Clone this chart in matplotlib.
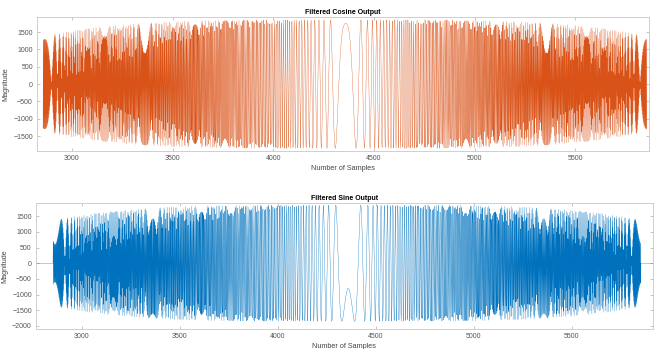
import numpy as np
import matplotlib.pyplot as plt

plt.rcParams["font.family"] = ["Liberation Sans", "DejaVu Sans"]

# values
cos_samples = [2857, 5855]       # first / last sample of the cosine burst
sin_samples = [2855, 5852]       # first / last sample of the sine burst
sin_pad = [2767, 5913]           # zero output shown around the sine burst
chirp_center = 4360              # sample where the frequency goes to zero
chirp_rate = 0.00105             # rad / sample^2
peak_amp = 1850                  # magnitude in the middle
edge_rolloff = 0.26              # drop of magnitude towards nyquist
cos_phase = 0.33
sin_phase = 3.59

cos_ticks_y = [-1500, -1000, -500, 0, 500, 1000, 1500]
sin_ticks_y = [-2000, -1500, -1000, -500, 0, 500, 1000, 1500]
x_ticks = [3000, 3500, 4000, 4500, 5000, 5500]

orange = "#D95319"
blue = "#0072BD"


def filtered_chirp(n, phase):
    t = n - chirp_center
    w = np.abs(2 * chirp_rate * t) / np.pi
    amp = peak_amp * (1 - edge_rolloff * w ** 4)
    return amp * np.cos(chirp_rate * t ** 2 + phase)


n_cos = np.arange(cos_samples[0], cos_samples[1] + 1)
y_cos = filtered_chirp(n_cos, cos_phase)

n_sin = np.arange(sin_pad[0], sin_pad[1] + 1)
y_sin = filtered_chirp(n_sin, sin_phase - np.pi / 2)
y_sin[(n_sin < sin_samples[0]) | (n_sin > sin_samples[1])] = 0


fig = plt.figure(figsize=(6.54, 3.49), dpi=100)
ax1 = fig.add_axes([0.0566, 0.567, 0.9354, 0.384])
ax2 = fig.add_axes([0.055, 0.057, 0.943, 0.361])

ax1.plot(n_cos, y_cos, color=orange, lw=0.24)
ax1.set_xlim(2827, 5865)
ax1.set_ylim(-1930, 1930)
ax1.set_yticks(cos_ticks_y)
ax1.set_title("Filtered Cosine Output", fontsize=5, fontweight="bold", pad=2)

ax2.plot(n_sin, y_sin, color=blue, lw=0.24)
ax2.set_xlim(sin_pad[0], sin_pad[1])
ax2.set_ylim(-2100, 1915)
ax2.set_yticks(sin_ticks_y)
ax2.set_title("Filtered Sine Output", fontsize=5, fontweight="bold", pad=2)

for ax in (ax1, ax2):
    ax.set_xticks(x_ticks)
    ax.set_xlabel("Number of Samples", fontsize=5.2, color="#444444", labelpad=2)
    ax.set_ylabel("Magnitude", fontsize=5.2, color="#444444", labelpad=3)
    ax.tick_params(direction="in", length=2, width=0.4, top=True, right=True,
                   labelsize=5, labelcolor="#555555", color="#999999", pad=3)
    for s in ax.spines.values():
        s.set_color("#c8c8c8")
        s.set_linewidth(0.6)

fig.savefig("out.png", dpi=100)
